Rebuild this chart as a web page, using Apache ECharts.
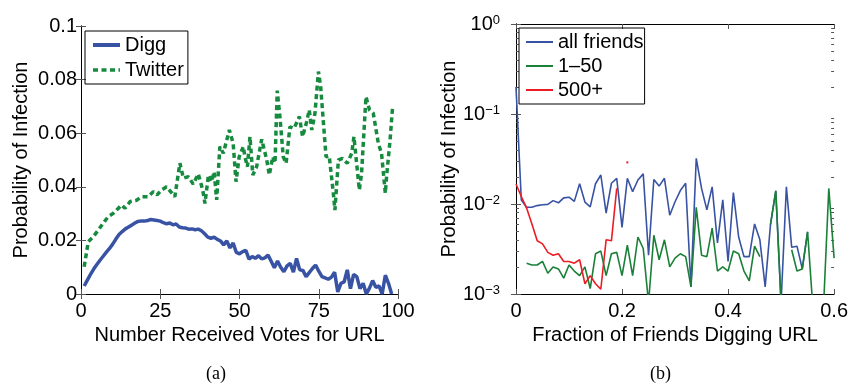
<!DOCTYPE html>
<html>
<head>
<meta charset="utf-8">
<script src="https://cdn.jsdelivr.net/npm/echarts@6/dist/echarts.min.js"></script>
<style>
  html, body { margin: 0; padding: 0; background: #fff; }
  #chart { width: 851px; height: 387px; }
</style>
</head>
<body>
<div id="chart"></div>
<script>
const FONT = "Liberation Sans";

// (a) infection probability vs number of votes
const diggX = [1, 2, 3, 4, 5, 6, 7, 8, 9, 10, 11, 12, 13, 14, 15, 16, 17, 18, 19, 20,
  21, 22, 23, 24, 25, 26, 27, 28, 29, 30, 31, 32, 33, 34, 35, 36, 37, 38, 39, 40,
  41, 42, 43, 44, 45, 46, 47, 48, 49, 50, 51, 52, 53, 54, 55, 56, 57, 58, 59, 60,
  61, 62, 63, 64, 65, 66, 67, 68, 69, 70, 71, 72, 73, 74, 75, 76, 77, 78, 79, 80,
  81, 82, 83, 84, 85, 86, 87, 88, 89, 90, 91, 92, 93, 94, 95, 96, 97, 98];
const diggY = [0.0030, 0.0052, 0.0073, 0.0093, 0.0110, 0.0126, 0.0141, 0.0156, 0.0170, 0.0186,
  0.0205, 0.0222, 0.0233, 0.0243, 0.0250, 0.0257, 0.0265, 0.0271, 0.0272, 0.0272,
  0.0274, 0.0278, 0.0276, 0.0274, 0.0272, 0.0266, 0.0262, 0.0265, 0.0258, 0.0261,
  0.0250, 0.0247, 0.0246, 0.0242, 0.0243, 0.0240, 0.0242, 0.0236, 0.0225, 0.0212,
  0.0208, 0.0212, 0.0204, 0.0198, 0.0183, 0.0198, 0.0172, 0.0190, 0.0155, 0.0150,
  0.0158, 0.0163, 0.0130, 0.0140, 0.0133, 0.0143, 0.0131, 0.0135, 0.0145, 0.0122,
  0.0098, 0.0123, 0.0100, 0.0083, 0.0105, 0.0114, 0.0082, 0.0133, 0.0090, 0.0088,
  0.0065, 0.0080, 0.0095, 0.0108, 0.0085, 0.0065, 0.0060, 0.0055, 0.0063, 0.0081,
  0.0008, 0.0040, 0.0045, 0.0090, 0.0020, 0.0073, 0.0065, 0.0020, 0.0040, 0.0000,
  0.0022, 0.0050, 0.0025, 0.0030, 0.0000, 0.0070, 0.0040, 0.0000];
const twitterX = [1, 2.3, 3.9, 5.5, 7, 8.6, 10.2, 11.8, 12.8, 13.9, 15.5, 17.6, 19.1, 21.2,
  22.8, 24, 25.4, 27, 28, 29.6, 31.2, 32.3, 33.9, 35.4, 37, 38.4, 39.1, 40.2, 41.2, 42,
  42.8, 43.8, 44.9, 46.8, 48, 48.9, 49.9, 51.2, 51.7, 52.5, 53.3, 54.2, 55.4, 57, 58.6,
  59.4, 60.5, 61.2, 61.9, 62.8, 63.8, 64.7, 65.9, 67.2, 68.9, 69.9, 71.2, 72, 72.8,
  73.8, 74.9, 75.6, 77.3, 78.3, 79.6, 80.1, 81.2, 82.5, 84, 85.4, 86.1, 87.8, 88.5,
  89.9, 91, 92.2, 93.8, 94.8, 96, 96.4, 97.5, 98.3];
const twitterY = [0.0102, 0.0195, 0.0214, 0.0239, 0.0264, 0.0289, 0.0301, 0.0320, 0.0332, 0.0320,
  0.0345, 0.0350, 0.0363, 0.0363, 0.0382, 0.0370, 0.0388, 0.0400, 0.0386, 0.0363,
  0.0488, 0.0432, 0.0438, 0.0410, 0.0448, 0.0388, 0.0338, 0.0444, 0.0419, 0.0456,
  0.0351, 0.0550, 0.0525, 0.0612, 0.0562, 0.0419, 0.0512, 0.0550, 0.0512, 0.0475,
  0.0587, 0.0444, 0.0475, 0.0577, 0.0500, 0.0444, 0.0512, 0.0488, 0.0759, 0.0655,
  0.0512, 0.0488, 0.0624, 0.0618, 0.0662, 0.0587, 0.0643, 0.0687, 0.0612, 0.0674,
  0.0830, 0.0774, 0.0512, 0.0515, 0.0376, 0.0313, 0.0500, 0.0506, 0.0488, 0.0525,
  0.0587, 0.0388, 0.0450, 0.0736, 0.0687, 0.0674, 0.0562, 0.0525, 0.0376, 0.0438,
  0.0575, 0.0699];

// (b) infection probability vs fraction of friends digging (log scale)
const fracX = [0, 0.01, 0.02, 0.03, 0.04, 0.05, 0.06, 0.07, 0.08, 0.09,
  0.1, 0.11, 0.12, 0.13, 0.14, 0.15, 0.16, 0.17, 0.18, 0.19,
  0.2, 0.21, 0.22, 0.23, 0.24, 0.25, 0.26, 0.27, 0.28, 0.29,
  0.3, 0.31, 0.32, 0.33, 0.34, 0.35, 0.36, 0.37, 0.38, 0.39,
  0.4, 0.41, 0.42, 0.43, 0.44, 0.45, 0.46, 0.47, 0.48, 0.49,
  0.5, 0.51, 0.52, 0.53, 0.54, 0.55, 0.56, 0.57, 0.58, 0.59, 0.6];
const allFriends = [0.20, 0.0111, 0.0092, 0.0092, 0.0096, 0.0098, 0.0099, 0.0109, 0.0103, 0.0117,
  0.0119, 0.0107, 0.0168, 0.0105, 0.0093, 0.0168, 0.0210, 0.0079, 0.0170, 0.0193,
  0.0055, 0.0193, 0.0137, 0.0185, 0.0216, 0.0027, 0.0187, 0.0158, 0.0193, 0.0075,
  0.0106, 0.0141, 0.0170, 0.0012, 0.0322, 0.0149, 0.0086, 0.0155, 0.0037, 0.0111,
  0.0023, 0.0134, 0.0043, 0.0026, 0.0026, 0.0060, 0.0040, 0.0012, 0.0059, 0.0140,
  0.0008, 0.0155, 0.0033, 0.0034, 0.0019, 0.0049, null, null, null, null, null];
const oneToFifty = [null, null, 0.0022, 0.0021, 0.0021, 0.0023, 0.0017, 0.0020, 0.0019, 0.0015,
  0.0021, 0.0018, 0.0016, 0.0020, 0.00115, 0.0028, 0.0030, 0.0016, 0.0028, 0.0029,
  0.0016, 0.0035, 0.0016, 0.0043, 0.0032, 0.0008, 0.0045, 0.0024, 0.0040, 0.0020,
  0.0025, 0.0028, 0.0026, 0.0012, 0.0092, 0.0027, 0.0026, 0.0054, 0.0018, 0.0020,
  0.0018, 0.0030, 0.0028, 0.0018, 0.0014, 0.0034, 0.0026, null, 0.0059, 0.0140,
  0.0008, null, 0.0031, 0.0018, 0.0019, 0.0049, 0.0007, 0.0005, 0.0007, 0.0149, 0.0025];
const fiveHundredPlus = [0.0167, 0.0121, 0.0090, 0.0060, 0.0039, 0.0036, 0.0029, 0.0027, 0.0028, 0.0023,
  0.0023, 0.0022, 0.0024, 0.0013, 0.0016, 0.0013, 0.00113, 0.0040, 0.0039, 0.0149,
  null, 0.029];
const logMinorTicks = [0.002, 0.003, 0.004, 0.005, 0.006, 0.007, 0.008, 0.009,
  0.02, 0.03, 0.04, 0.05, 0.06, 0.07, 0.08, 0.09,
  0.2, 0.3, 0.4, 0.5, 0.6, 0.7, 0.8, 0.9];

// zip x/y into points; a lone value between gaps gets a tiny mark so it still shows
function pairs(xs, ys) {
  let out = [];
  for (let i = 0; i < ys.length; i++) {
    if (ys[i] == null) {
      out.push([xs[i], "-"]);
      continue;
    }
    let lonely = (i === 0 || ys[i - 1] == null) && (i === ys.length - 1 || ys[i + 1] == null);
    if (lonely) {
      out.push({ value: [xs[i], ys[i]], symbol: "rect", symbolSize: [2, 2] });
    } else {
      out.push([xs[i], ys[i]]);
    }
  }
  return out;
}

const labelStyle = { color: "#000", fontSize: 20, fontFamily: FONT };
const tickStyle = { inside: true, length: 5, lineStyle: { color: "#555" } };

function boxAxis(opts) {
  return Object.assign({
    type: "value",
    axisLine: { show: true, lineStyle: { color: "#000", width: 1 } },
    axisTick: tickStyle,
    axisLabel: { show: false },
    splitLine: { show: false },
  }, opts);
}

const chart = echarts.init(document.getElementById("chart"));

const option = {
  animation: false,
  textStyle: { fontFamily: FONT },
  grid: [
    { left: 81, top: 26, width: 317, height: 268 },
    { left: 516, top: 24, width: 321, height: 270 },
  ],
  legend: [
    {
      data: [
        { name: "Digg", lineStyle: { width: 4 } },
        { name: "Twitter", lineStyle: { width: 3.5, type: [5, 3.5] } },
      ],
      orient: "vertical",
      left: 85,
      top: 31,
      padding: [4, 4, 4, 6],
      itemGap: 5,
      itemWidth: 27,
      itemHeight: 14,
      borderColor: "#000",
      borderWidth: 1,
      selectedMode: false,
      itemStyle: { opacity: 0 },
      textStyle: labelStyle,
    },
    {
      data: [
        { name: "all friends", lineStyle: { width: 2 } },
        { name: "1\u201350", lineStyle: { width: 2 } },
        { name: "500+", lineStyle: { width: 2 } },
      ],
      orient: "vertical",
      left: 519,
      top: 28,
      padding: [4, 1, 4, 6],
      itemGap: 4,
      itemWidth: 27,
      itemHeight: 14,
      borderColor: "#000",
      borderWidth: 1,
      selectedMode: false,
      itemStyle: { opacity: 0 },
      textStyle: labelStyle,
    },
  ],
  xAxis: [
    boxAxis({
      gridIndex: 0, position: "bottom", min: 0, max: 100, interval: 25,
      axisLabel: Object.assign({ margin: 7 }, labelStyle),
      name: "Number Received Votes for URL", nameLocation: "middle", nameGap: 19,
      nameTextStyle: labelStyle,
    }),
    boxAxis({ gridIndex: 0, position: "top", min: 0, max: 100, interval: 25 }),
    boxAxis({
      gridIndex: 1, position: "bottom", min: 0, max: 0.6, interval: 0.2,
      axisLabel: Object.assign({ margin: 7 }, labelStyle),
      name: "Fraction of Friends Digging URL", nameLocation: "middle", nameGap: 19,
      nameTextStyle: labelStyle,
    }),
    boxAxis({ gridIndex: 1, position: "top", min: 0, max: 0.6, interval: 0.2 }),
  ],
  yAxis: [
    boxAxis({
      gridIndex: 0, position: "left", min: 0, max: 0.1, interval: 0.02,
      axisLabel: Object.assign({ margin: 4 }, labelStyle),
      name: "Probability of Infection", nameLocation: "middle", nameRotate: 90, nameGap: 50,
      nameTextStyle: labelStyle,
    }),
    boxAxis({ gridIndex: 0, position: "right", min: 0, max: 0.1, interval: 0.02 }),
    boxAxis({
      gridIndex: 1, position: "left", type: "log", logBase: 10, min: 0.001, max: 1,
      axisLabel: {
        margin: 16,
        formatter: function (v) {
          let e = Math.round(Math.log10(v));
          return "{b|10}{s|" + (e < 0 ? "\u2212" + (-e) : e) + "}";
        },
        rich: {
          b: { color: "#000", fontSize: 20, fontFamily: FONT },
          s: { color: "#000", fontSize: 13, fontFamily: FONT, verticalAlign: "top" },
        },
      },
      name: "Probability of Infection", nameLocation: "middle", nameRotate: 90, nameGap: 40,
      nameTextStyle: labelStyle,
    }),
    boxAxis({ gridIndex: 1, position: "right", type: "log", logBase: 10, min: 0.001, max: 1 }),
    boxAxis({
      gridIndex: 1, position: "left", type: "log", logBase: 10, min: 0.001, max: 1,
      axisLine: { show: false },
      axisTick: { inside: true, length: 3, customValues: logMinorTicks, lineStyle: { color: "#555" } },
    }),
    boxAxis({
      gridIndex: 1, position: "right", type: "log", logBase: 10, min: 0.001, max: 1,
      axisLine: { show: false },
      axisTick: { inside: true, length: 3, customValues: logMinorTicks, lineStyle: { color: "#555" } },
    }),
  ],
  series: [
    {
      name: "Digg", type: "line", xAxisIndex: 0, yAxisIndex: 0,
      data: pairs(diggX, diggY), symbol: "none",
      lineStyle: { color: "#3953a4", width: 3.5 }, itemStyle: { color: "#3953a4" },
    },
    {
      name: "Twitter", type: "line", xAxisIndex: 0, yAxisIndex: 0,
      data: pairs(twitterX, twitterY), symbol: "none",
      lineStyle: { color: "#168a3e", width: 3.5, type: [5, 3.5] }, itemStyle: { color: "#168a3e" },
    },
    {
      name: "all friends", type: "line", xAxisIndex: 2, yAxisIndex: 2,
      data: pairs(fracX, allFriends), symbol: "none",
      lineStyle: { color: "#3953a4", width: 1.6 }, itemStyle: { color: "#3953a4" },
    },
    {
      name: "1\u201350", type: "line", xAxisIndex: 2, yAxisIndex: 2,
      data: pairs(fracX, oneToFifty), symbol: "none",
      lineStyle: { color: "#1a8038", width: 1.6 }, itemStyle: { color: "#1a8038" },
    },
    {
      name: "500+", type: "line", xAxisIndex: 2, yAxisIndex: 2,
      data: pairs(fracX, fiveHundredPlus), symbol: "none", showSymbol: true,
      lineStyle: { color: "#ec1c24", width: 1.6 }, itemStyle: { color: "#ec1c24" },
    },
  ],
  graphic: [
    { type: "text", left: 206, top: 365, style: { text: "(a)", fontSize: 18, fontFamily: "Liberation Serif", fill: "#000" } },
    { type: "text", left: 650, top: 365, style: { text: "(b)", fontSize: 18, fontFamily: "Liberation Serif", fill: "#000" } },
  ],
};

chart.setOption(option);
</script>
</body>
</html>
